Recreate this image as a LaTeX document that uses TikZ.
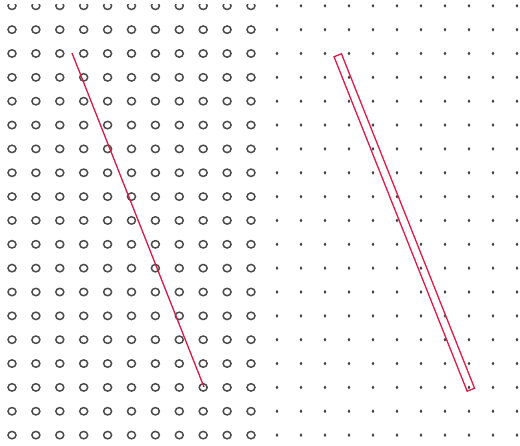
\documentclass[tikz,border=0pt]{standalone}
\begin{document}
\begin{tikzpicture}[x=1pt,y=-1pt,
  ring/.style={draw=black!70,line width=1.5pt},
  pin/.style={fill=black!75},
  redline/.style={draw={rgb,255:red,215;green,25;blue,70},line width=1.3pt},
  bar/.style={draw={rgb,255:red,225;green,25;blue,70},line width=1.3pt,rectangle,minimum width=360pt,minimum height=8pt,inner sep=0pt}]
\useasboundingbox (0,0) rectangle (520,445);
\begin{scope}
\clip (0,4.6) rectangle (520,445);
\foreach \k in {0,...,18}{
  \foreach \j in {0,...,10}{
    \path[ring] ({12+23.9*\j},{5.8+23.85*\k}) ellipse[x radius=4.0,y radius=3.7];
    \path[pin] ({277+24*\j},{5.8+23.85*\k}) ellipse[x radius=1.3,y radius=1.9];
  }
}
\end{scope}
\coordinate (la) at (72,53);
\coordinate (lb) at (204,387);
\draw[redline] (la) -- (lb);
\node[bar,rotate=-68.3] (rb) at (404.3,222.5) {};
\end{tikzpicture}
\end{document}
